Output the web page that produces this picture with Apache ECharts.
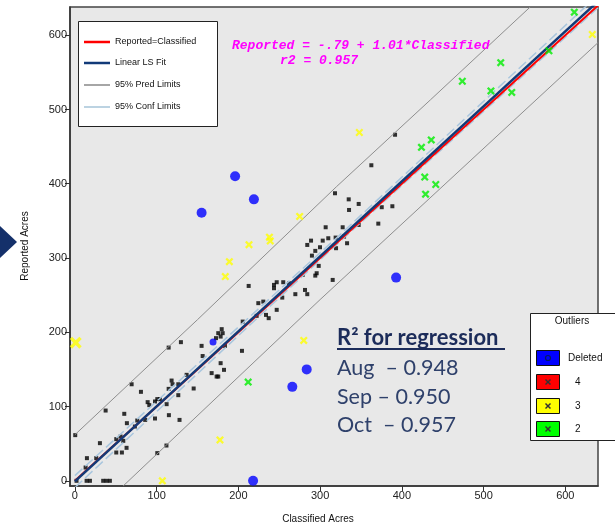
<!DOCTYPE html>
<html><head><meta charset="utf-8">
<script src="https://cdn.jsdelivr.net/npm/echarts@6/dist/echarts.min.js"></script>
<style>html,body{margin:0;padding:0;background:#fff}#c{width:615px;height:525px}</style>
</head><body><div id="c"></div>
<script>
const xTicks = [0,100,200,300,400,500,600];
const yTicks = [0,100,200,300,400,500,600];
const fitIntercept = -0.79, fitSlope = 1.01;
const identityLine = [[0,0],[640,640]];
const fitLine = [[0, fitIntercept],[640, fitIntercept + fitSlope*640]];
const predUpper = [[0,62],[150,217],[320,396],[435,513],[557,638]];
const predLower = [[59,-7],[300,244],[640,590]];
const confUpper = [[0,7],[320,327],[640,654]];
const confLower = [[0,-9],[320,318],[640,637]];
const normalPts = [
[129.7,186.7],[114.7,179.4],[155,181.7],[156.3,168],[69.4,130],[80.8,119.8],[37.6,94.6],[0.4,61.5],
[118.3,135],[119.5,130],[114.7,123.8],[126.5,130],[145.3,124.3],[126.5,115.3],[100.8,110],[104,110],
[98,106.8],[89,105.9],[91,101.9],[112.2,103.2],[115,88.4],[98,83.9],[128,82],[60.4,90.2],[63.6,77.6],
[76.3,81.2],[73.4,73.1],[86,82],[55.9,59.6],[50.6,56.1],[59.2,53.8],[30.6,50.7],[63.2,44.4],[50.6,38.1],
[57.5,38.1],[14.7,30.5],[26.1,30.5],[13.1,17.9],[2,0],[14.3,0],[18.4,0],[34.6,0],[38.7,0],[42.8,0],
[112,47.5],[100.8,37.3],
[318.2,387.2],[335,379],[335.4,364.7],[306.8,341.4],[288.9,323.4],[284.3,317.6],[303.2,323.4],[310,326.6],
[299.9,314.5],[294.1,309.6],[290,303.2],[319,327.5],[333,319.9],[298.3,289.4],[295.8,279.5],[294.1,276.3],
[278.7,277.3],[315.4,270.5],[246.9,267.4],[254.9,267.4],[243.6,263.8],[243.6,259.3],[212.6,262.4],[262,266],
[253.7,246.7],[269.7,251.3],[281.5,257],[284.3,251.3],[230.5,241.3],[224.4,239.2],[233.8,223.4],[237.1,219],
[246.9,230.2],[222.4,222.1],[205.3,214.4],[179.6,204.2],[175.4,198.8],[180.8,198.8],[178.3,194.2],[172.6,192.1],
[327.6,341.4],
[391.7,466],[362.7,424.9],[347.2,372.8],[375.4,368.4],[388.4,369.7],[329.3,328.8],[347.2,344.5],[371.2,346.3],
[319.5,313.2],
[204.4,175],[183.6,181.7],[178.3,158.4],[182.4,149.4],[167.3,145],[173.4,140.4],[175.4,140.4],[136.7,142.7]
];
const deletedPts = [[196,410],[219,379],[155,361],[283.6,150],[266,126.5],[218,0],[393,273.6]];
const deletedSmallPts = [[169,187]];
const outlier3Pts = [[275,356],[238,328],[239,323],[213,318],[189,295],[184,275],[280,189],[177.5,55],[107,0],[348,469],[633,601]];
const outlier3BigPts = [[1,186]];
const outlier2Pts = [[212,133],[436,459],[424,449],[428,409],[441.5,399],[429,386],[474,538],[521,563],[509,525],[534.5,523],[580,579],[611,631]];

const X = 'path://M0,2 L2,0 L5,3 L8,0 L10,2 L7,5 L10,8 L8,10 L5,7 L2,10 L0,8 L3,5 Z';
const chart = echarts.init(document.getElementById('c'), null, {renderer:'canvas'});
const tickFont = {fontFamily:'Liberation Sans', fontSize:11, color:'#222'};
function lineS(data, color, width, z, type){
  return {type:'line', data, showSymbol:false, symbol:'none', silent:true, z,
    lineStyle:{color, width, type: type||'solid'}, animation:false};
}
const lx = 84, lx2 = 110, tx = 115;
const legRows = [
  {y:42, c:'#ff0000', w:2.5, t:'Reported=Classified'},
  {y:63, c:'#123a78', w:2.5, t:'Linear LS Fit'},
  {y:85, c:'#a6a6a6', w:2, t:'95% Pred Limits'},
  {y:107, c:'#bcd3e2', w:2, t:'95% Conf Limits'}
];
const graphics = [
  {type:'polygon', shape:{points:[[0,226],[17,242],[0,258]]}, style:{fill:'#14306a'}, z:10},
  {type:'text', x:25, y:246, rotation:Math.PI/2, style:{text:'Reported Acres', font:'10px "Liberation Sans"', fill:'#111', textAlign:'center', textVerticalAlign:'middle'}},
  {type:'text', x:318, y:519, style:{text:'Classified Acres', font:'10px "Liberation Sans"', fill:'#111', textAlign:'center', textVerticalAlign:'middle'}},
  {type:'rect', shape:{x:78.5,y:21.5,width:139,height:105}, style:{fill:'#fff', stroke:'#222', lineWidth:1}, z:20},
  {type:'text', x:232, y:46, style:{text:'Reported = -.79 + 1.01*Classified', font:'italic bold 13px "Liberation Mono"', fill:'#ff00ff', textVerticalAlign:'middle'}, z:20},
  {type:'text', x:280, y:61, style:{text:'r2 = 0.957', font:'italic bold 13px "Liberation Mono"', fill:'#ff00ff', textVerticalAlign:'middle'}, z:20},
  {type:'text', x:337, y:338, style:{text:'R² for regression', font:'bold 22px Lato', fill:'#1c2c5a', textVerticalAlign:'middle'}, z:20},
  {type:'rect', shape:{x:337,y:348,width:168,height:2}, style:{fill:'#1c2c5a'}, z:20},
  {type:'text', x:337, y:368, style:{text:'Aug  – 0.948', font:'21.5px Lato', fill:'#2f416b', textVerticalAlign:'middle'}, z:20},
  {type:'text', x:337, y:397, style:{text:'Sep – 0.950', font:'21.5px Lato', fill:'#2f416b', textVerticalAlign:'middle'}, z:20},
  {type:'text', x:337, y:425, style:{text:'Oct  – 0.957', font:'21.5px Lato', fill:'#2f416b', textVerticalAlign:'middle'}, z:20},
  {type:'rect', shape:{x:530.5,y:313.5,width:100,height:127}, style:{fill:'#fff', stroke:'#222', lineWidth:1}, z:20},
  {type:'text', x:572, y:321, style:{text:'Outliers', font:'10px "Liberation Sans"', fill:'#111', textAlign:'center', textVerticalAlign:'middle'}, z:21}
];
legRows.forEach(r=>{
  graphics.push({type:'line', shape:{x1:lx,y1:r.y,x2:lx2,y2:r.y}, style:{stroke:r.c, lineWidth:r.w}, z:21});
  graphics.push({type:'text', x:tx, y:r.y, style:{text:r.t, font:'9px "Liberation Sans"', fill:'#111', textVerticalAlign:'middle'}, z:21});
});
const outRows = [
  {y:358, c:'#0000ff', t:'Deleted', tx:568, m:'o'},
  {y:382, c:'#ff0000', t:'4', tx:575, m:'x'},
  {y:406, c:'#ffff00', t:'3', tx:575, m:'x'},
  {y:429, c:'#00ff00', t:'2', tx:575, m:'x'}
];
outRows.forEach(r=>{
  graphics.push({type:'rect', shape:{x:536.5,y:r.y-7.5,width:23,height:15}, style:{fill:r.c, stroke:'#111', lineWidth:1}, z:21});
  if(r.m==='o') graphics.push({type:'circle', shape:{cx:548,cy:r.y,r:2.5}, style:{fill:'none', stroke:'#001a66', lineWidth:1.2}, z:22});
  else {
    graphics.push({type:'line', shape:{x1:545.5,y1:r.y-2.5,x2:550.5,y2:r.y+2.5}, style:{stroke:'#333', lineWidth:1.5}, z:22});
    graphics.push({type:'line', shape:{x1:545.5,y1:r.y+2.5,x2:550.5,y2:r.y-2.5}, style:{stroke:'#333', lineWidth:1.5}, z:22});
  }
  graphics.push({type:'text', x:r.tx, y:r.y, style:{text:r.t, font:'10px "Liberation Sans"', fill:'#111', textVerticalAlign:'middle'}, z:22});
});

chart.setOption({
  animation:false,
  backgroundColor:'#fff',
  grid:{left:70, right:17, top:7, bottom:39, show:true, backgroundColor:'#e8e8e8', borderColor:'#444', borderWidth:1.5},
  xAxis:{type:'value', min:-6, max:640, splitLine:{show:false},
    axisLine:{show:true, onZero:false, lineStyle:{color:'#333', width:1.5}},
    axisTick:{show:true, length:5, customValues:xTicks, lineStyle:{color:'#333'}},
    axisLabel:Object.assign({customValues:xTicks, margin:4}, tickFont)},
  yAxis:{type:'value', min:-7, max:638, splitLine:{show:false},
    axisLine:{show:true, onZero:false, lineStyle:{color:'#333', width:1.5}},
    axisTick:{show:true, length:5, customValues:yTicks, lineStyle:{color:'#333'}},
    axisLabel:Object.assign({customValues:yTicks, margin:3}, tickFont)},
  series:[
    {type:'scatter', data:normalPts, symbol:'rect', symbolSize:4, itemStyle:{color:'#000'}, z:2, silent:true},
    lineS(predUpper, '#8e8e8e', 1, 3),
    lineS(predLower, '#8e8e8e', 1, 3),
    lineS(confUpper, '#a9c6de', 1.5, 3, [10,4]),
    lineS(confLower, '#a9c6de', 1.5, 3, [10,4]),
    lineS(identityLine, '#ff0000', 2, 4),
    lineS(fitLine, '#123a78', 2.5, 5),
    {type:'scatter', data:deletedPts, symbol:'circle', symbolSize:10, itemStyle:{color:'#0000ff'}, z:6, silent:true},
    {type:'scatter', data:deletedSmallPts, symbol:'circle', symbolSize:7, itemStyle:{color:'#0000ff'}, z:6, silent:true},
    {type:'scatter', data:outlier3Pts, symbol:X, symbolSize:8, itemStyle:{color:'#ffff00'}, z:6, silent:true},
    {type:'scatter', data:outlier3BigPts, symbol:X, symbolSize:12, itemStyle:{color:'#ffff00'}, z:6, silent:true},
    {type:'scatter', data:outlier2Pts, symbol:X, symbolSize:8, itemStyle:{color:'#00ee00'}, z:6, silent:true}
  ],
  graphic:graphics
});
</script></body></html>
